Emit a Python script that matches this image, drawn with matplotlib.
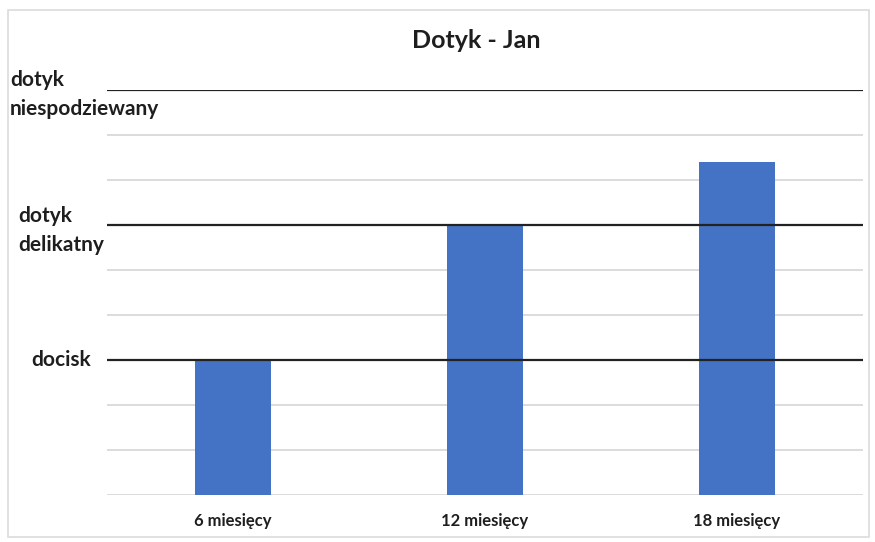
import matplotlib
matplotlib.use("Agg")
import matplotlib.pyplot as plt
from matplotlib.patches import Rectangle
from matplotlib.transforms import blended_transform_factory

plt.rcParams['font.family'] = ['Lato', 'DejaVu Sans']

categories = ["6 miesięcy", "12 miesięcy", "18 miesięcy"]
values = [3, 6, 7.4]
level_values = [3, 6, 9]
level_labels = ["docisk", "dotyk\ndelikatny", "dotyk\nniespodziewany"]
title = "Dotyk - Jan"

W, H = 875, 542
fig = plt.figure(figsize=(W / 100, H / 100), dpi=100)
fig.patch.set_facecolor("white")

# outer chart frame
fig.patches.append(Rectangle((8 / W, 1 - 537 / H), (869 - 8) / W, (537 - 10) / H,
                             transform=fig.transFigure, fill=False,
                             edgecolor="#dcdcdc", linewidth=1.2))

ax = fig.add_axes([107 / W, 1 - 495 / H, (863 - 107) / W, (495 - 90) / H])
x = range(len(categories))
ax.bar(x, values, width=0.305, color="#4472c4", zorder=3)
ax.set_xlim(-0.5, len(categories) - 0.5)
ax.set_ylim(0, 9)

# minor grid
for y in range(0, 10):
    if y in level_values:
        continue
    ax.axhline(y, color="#d9d9d9", linewidth=1.3, zorder=1)
# level lines
for y in level_values:
    ax.axhline(y, color="#222222", linewidth=1.6, zorder=4 if y != 9 else 2)

for s in ax.spines.values():
    s.set_visible(False)
ax.set_yticks([])
ax.set_xticks(list(x))
ax.set_xticklabels(categories, fontsize=12, fontweight="bold", color="#1e1e1e")
ax.tick_params(axis="x", length=0, pad=13)

trans = blended_transform_factory(fig.transFigure, ax.transData)
label_style = dict(transform=trans, va="center", fontsize=15, fontweight="bold",
                   color="#1e1e1e", linespacing=1.55)
ax.text(61 / W, level_values[0], level_labels[0], ha="center", **label_style)
ax.text(18 / W, level_values[1] - 0.12, level_labels[1], ha="left", **label_style)
ax.text(10 / W, level_values[2] - 0.1, level_labels[2], ha="left", **label_style)

fig.text(476 / W, 1 - 40 / H, title, ha="center", va="center", fontsize=18,
         fontweight="bold", color="#1e1e1e")

fig.savefig("out.png", dpi=100)
